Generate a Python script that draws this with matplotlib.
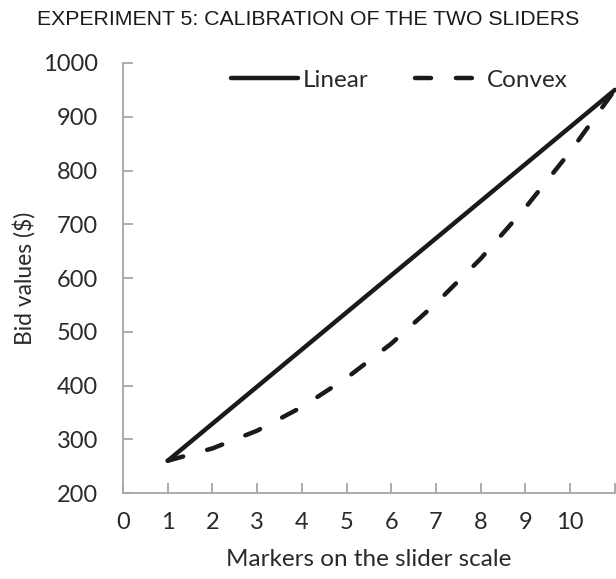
import matplotlib.pyplot as plt

markers = [1, 2, 3, 4, 5, 6, 7, 8, 9, 10, 11]
linear = [260, 329, 398, 467, 536, 605, 674, 743, 812, 881, 950]
convex = [260, 283, 316, 360, 414, 478, 553, 636, 731, 835, 950]
xtick_labels = ['0', '1', '2', '3', '4', '5', '6', '7', '8', '9', '10', '']

font = {'family': 'Lato', 'weight': 'normal'}

fig = plt.figure(figsize=(6.16, 5.79), dpi=100)
ax = fig.add_axes([0.1997, 0.1485, 0.7985, 0.7427])

ax.plot(markers, linear, '-', color='#1a1a1a', lw=3.2, solid_capstyle='round',
        label='Linear', clip_on=False)
ax.plot(markers, convex, '--', color='#1a1a1a', lw=3.2, dashes=(3.6, 5.6),
        dash_capstyle='round', label='Convex', clip_on=False)

ax.set_xlim(0, 11)
ax.set_ylim(200, 1000)
ax.set_xticks(range(12))
ax.set_xticklabels(xtick_labels)
ax.set_yticks(range(200, 1001, 100))

grey = '#a6a6a6'
for s in ['top', 'right']:
    ax.spines[s].set_visible(False)
for s in ['left', 'bottom']:
    ax.spines[s].set_color(grey)
    ax.spines[s].set_linewidth(1.3)
ax.tick_params(direction='in', length=7, width=1.3, color=grey,
               labelsize=17, labelcolor='#2a2a2a')
ax.tick_params(axis='x', pad=14)
ax.tick_params(axis='y', pad=18)
for lab in ax.get_xticklabels() + ax.get_yticklabels():
    lab.set_family(font['family'])
    lab.set_weight(font['weight'])

ax.set_xlabel('Markers on the slider scale', fontsize=17.5, color='#2a2a2a',
              labelpad=11, **font)
ax.set_ylabel('Bid values ($)', fontsize=16.5, color='#2a2a2a',
              labelpad=5, **font)

fig.text(0.5, 0.966, 'EXPERIMENT 5: CALIBRATION OF THE TWO SLIDERS',
         family='Liberation Sans', fontsize=15.3, color='#1a1a1a',
         ha='center', va='center')

leg = ax.legend(loc='upper right', bbox_to_anchor=(0.948, 1.035), ncol=2,
                frameon=False, handlelength=2.75, handletextpad=0.2,
                columnspacing=1.9, prop={'family': 'Lato', 'size': 17.5})
for t in leg.get_texts():
    t.set_color('#2a2a2a')

fig.savefig('out.png', dpi=100)
